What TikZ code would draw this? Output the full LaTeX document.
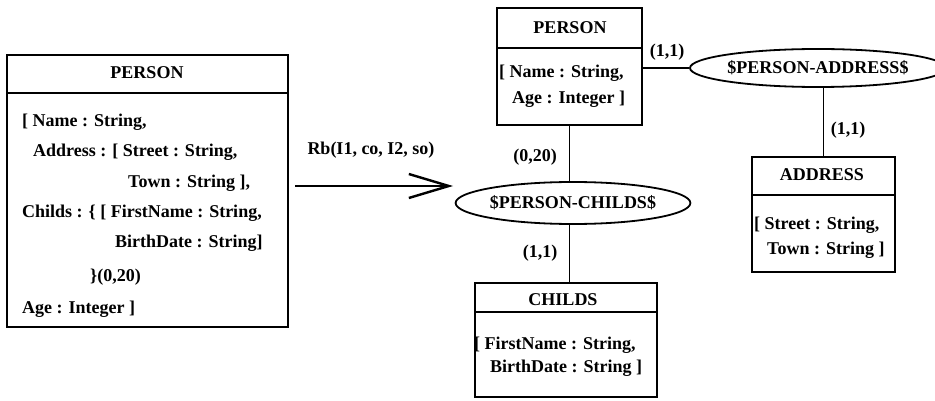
\documentclass[tikz,border=0pt]{standalone}
\usepackage{fontspec}
\setmainfont{Liberation Serif}
\usetikzlibrary{shapes.geometric,arrows.meta}
\begin{document}
\begin{tikzpicture}[x=1pt,y=-1pt,
  every node/.style={font=\fontsize{18}{22}\selectfont\bfseries},
  box/.style={draw,line width=1.8pt,rectangle,inner sep=0pt},
  rel/.style={draw,line width=1.8pt,ellipse,inner sep=0pt},
  txt/.style={anchor=west,inner sep=0pt},
  lbl/.style={inner sep=0pt},
  link/.style={line width=1.5pt},
  hdr/.style={line width=1.5pt}]
\useasboundingbox (0,0) rectangle (935,401);
% left PERSON
\node[box,minimum width=281pt,minimum height=272pt] (lp) at (147.5,191) {};
\draw[hdr] (7,93) -- (288,93);
\node[lbl] (lpt) at (147,73) {PERSON};
\node[txt] (l1) at (22,122) {[ Name : String,};
\node[txt] (l2) at (33,152) {Address : [ Street : String,};
\node[txt] (l3) at (128,183) {Town : String ],};
\node[txt] (l4) at (22,213) {Childs : \{ [ FirstName : String,};
\node[txt] (l5) at (115,243) {BirthDate : String]};
\node[txt] (l6) at (90,277) {\}(0,20)};
\node[txt] (l7) at (22,309) {Age : Integer ]};
% arrow
\coordinate (a1) at (295,186);
\coordinate (a2) at (453,186);
\draw[line width=2.6pt,-{Straight Barb[length=40pt,width=24pt,line width=2.4pt]}] (a1) -- (a2);
\node[lbl] (rb) at (371,150) {Rb(I1, co, I2, so)};
% right PERSON
\node[box,minimum width=145pt,minimum height=117pt] (rp) at (569.5,66.5) {};
\draw[hdr] (497,48) -- (642,48);
\node[lbl] (rpt) at (570,28) {PERSON};
\node[txt] (r1) at (499,73) {[ Name : String,};
\node[txt] (r2) at (512,99) {Age : Integer ]};
% PERSON-ADDRESS
\node[rel,minimum width=228pt,minimum height=38pt] (pa) at (818,68) {\$PERSON-ADDRESS\$};
\draw[link] (pa.west) -- (pa.west -| rp.east);
\node[lbl] (c1) at (667,52) {(1,1)};
% ADDRESS
\node[box,minimum width=143pt,minimum height=115pt] (ad) at (823.5,214.5) {};
\draw[hdr] (752,195) -- (895,195);
\node[lbl] (adt) at (822,175) {ADDRESS};
\node[txt] (a3) at (754,225) {[ Street : String,};
\node[txt] (a4) at (767,250) {Town : String ]};
\draw[link] (pa.south -| ad.north) -- (ad.north);
\node[lbl] (c2) at (848,130) {(1,1)};
% PERSON-CHILDS
\node[rel,minimum width=204pt,minimum height=42pt] (pc) at (573,203) {\$PERSON-CHILDS\$};
\draw[link] (rp.south) -- (rp.south |- pc.north);
\node[lbl] (c3) at (535,157) {(0,20)};
% CHILDS
\node[box,minimum width=182pt,minimum height=114pt] (ch) at (566,340) {};
\draw[hdr] (475,312) -- (657,312);
\node[lbl] (cht) at (563,300) {CHILDS};
\node[txt] (c5) at (474,345) {[ FirstName : String,};
\node[txt] (c6) at (490,368) {BirthDate : String ]};
\draw[link] (pc.south -| rp.south) -- (rp.south |- ch.north);
\node[lbl] (c4) at (540,253) {(1,1)};
\end{tikzpicture}
\end{document}
